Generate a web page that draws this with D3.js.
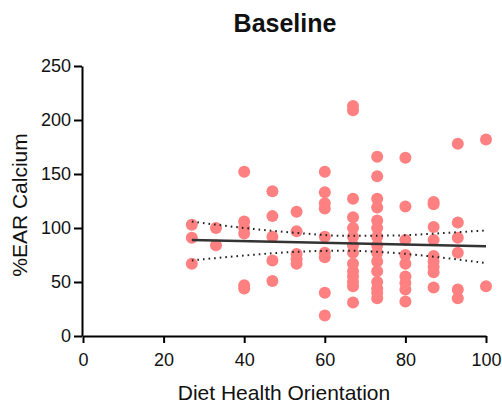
<!DOCTYPE html>
<html>
<head>
<meta charset="utf-8">
<script src="https://cdn.jsdelivr.net/npm/d3@7"></script>
<style>
  html, body { margin: 0; padding: 0; background: #fff; }
  svg { display: block; font-family: "Liberation Sans", Arial, sans-serif; }
</style>
</head>
<body>
<svg id="chart" width="502" height="405"></svg>
<script>
// Diet health orientation score of each participant
const dietScore = [
  27, 27, 27,
  33, 33,
  40, 40, 40, 40, 40, 40,
  47, 47, 47, 47, 47,
  53, 53, 53, 53, 53,
  60, 60, 60, 60, 60, 60, 60, 60, 60,
  67, 67, 67, 67, 67, 67, 67, 67, 67, 67, 67, 67, 67, 67,
  73, 73, 73, 73, 73, 73, 73, 73, 73, 73, 73, 73, 73, 73, 73,
  80, 80, 80, 80, 80, 80, 80, 80, 80,
  87, 87, 87, 87, 87, 87, 87, 87, 87,
  93, 93, 93, 93, 93, 93,
  100, 100
];
// Matching %EAR calcium intake
const earCalcium = [
  103, 91, 67,
  100, 84,
  152, 106, 100, 95, 47, 44,
  134, 111, 92, 70, 51,
  115, 97, 76, 71, 67,
  152, 133, 123, 118, 92, 77, 73, 40, 19,
  213, 209, 127, 110, 100, 92, 84, 77, 67, 60, 55, 50, 46, 31,
  166, 148, 127, 119, 107, 100, 92, 84, 77, 69, 60, 50, 44, 40, 35,
  165, 120, 89, 75, 67, 55, 49, 43, 32,
  124, 122, 101, 89, 74, 69, 64, 59, 45,
  178, 105, 91, 77, 43, 35,
  182, 46
];

// Fitted line and its 95% confidence band
const fitX = [27, 100];
const fitY = [89, 83];
const bandX = [27, 40, 53, 65, 77, 88, 100];
const bandUpper = [106, 100, 95.5, 92.8, 93, 95, 97.8];
const bandLower = [70, 74.5, 78, 79, 77, 73, 67.5];

const xTicks = [0, 20, 40, 60, 80, 100];
const yTicks = [0, 50, 100, 150, 200, 250];

const svg = d3.select("#chart");

const x = d3.scaleLinear().domain([0, 100]).range([83, 486]);
const y = d3.scaleLinear().domain([0, 250]).range([336, 66]);

// Scatter points
svg.append("g")
  .selectAll("circle")
  .data(dietScore.map((d, i) => [d, earCalcium[i]]))
  .join("circle")
  .attr("cx", d => x(d[0]))
  .attr("cy", d => y(d[1]))
  .attr("r", 6)
  .attr("fill", "#ff8080");

// Confidence band (dotted)
const bandLine = d3.line()
  .x(d => x(d[0]))
  .y(d => y(d[1]))
  .curve(d3.curveMonotoneX);

[bandUpper, bandLower].forEach(vals => {
  svg.append("path")
    .attr("d", bandLine(bandX.map((bx, i) => [bx, vals[i]])))
    .attr("fill", "none")
    .attr("stroke", "#222")
    .attr("stroke-width", 2)
    .attr("stroke-dasharray", "1.6,4");
});

// Regression line
svg.append("path")
  .attr("d", d3.line().x(d => x(d[0])).y(d => y(d[1]))(fitX.map((fx, i) => [fx, fitY[i]])))
  .attr("fill", "none")
  .attr("stroke", "#333")
  .attr("stroke-width", 2.5);

// Axes
const yAxis = svg.append("g")
  .attr("transform", `translate(${x(0) - 1},0)`)
  .call(d3.axisLeft(y).tickValues(yTicks).tickSize(8).tickPadding(3).tickSizeOuter(0));
const xAxis = svg.append("g")
  .attr("transform", `translate(0,${y(0)})`)
  .call(d3.axisBottom(x).tickValues(xTicks).tickSize(7).tickPadding(10).tickSizeOuter(0));

[yAxis, xAxis].forEach(g => {
  g.select(".domain").attr("stroke", "#000").attr("stroke-width", 2);
  g.selectAll(".tick line").attr("stroke", "#000").attr("stroke-width", 2);
  g.selectAll(".tick text")
    .attr("fill", "#111")
    .style("font-size", "18px")
    .style("font-family", "'Liberation Sans', Arial, sans-serif");
});

// Title and axis titles
svg.append("text")
  .attr("x", 285).attr("y", 32)
  .attr("text-anchor", "middle")
  .style("font-size", "25px")
  .style("font-weight", "bold")
  .attr("fill", "#111")
  .text("Baseline");

svg.append("text")
  .attr("x", 284).attr("y", 400)
  .attr("text-anchor", "middle")
  .style("font-size", "21px")
  .attr("fill", "#111")
  .text("Diet Health Orientation");

svg.append("text")
  .attr("transform", "translate(27,205) rotate(-90)")
  .attr("text-anchor", "middle")
  .style("font-size", "21px")
  .attr("fill", "#111")
  .text("%EAR Calcium");
</script>
</body>
</html>
